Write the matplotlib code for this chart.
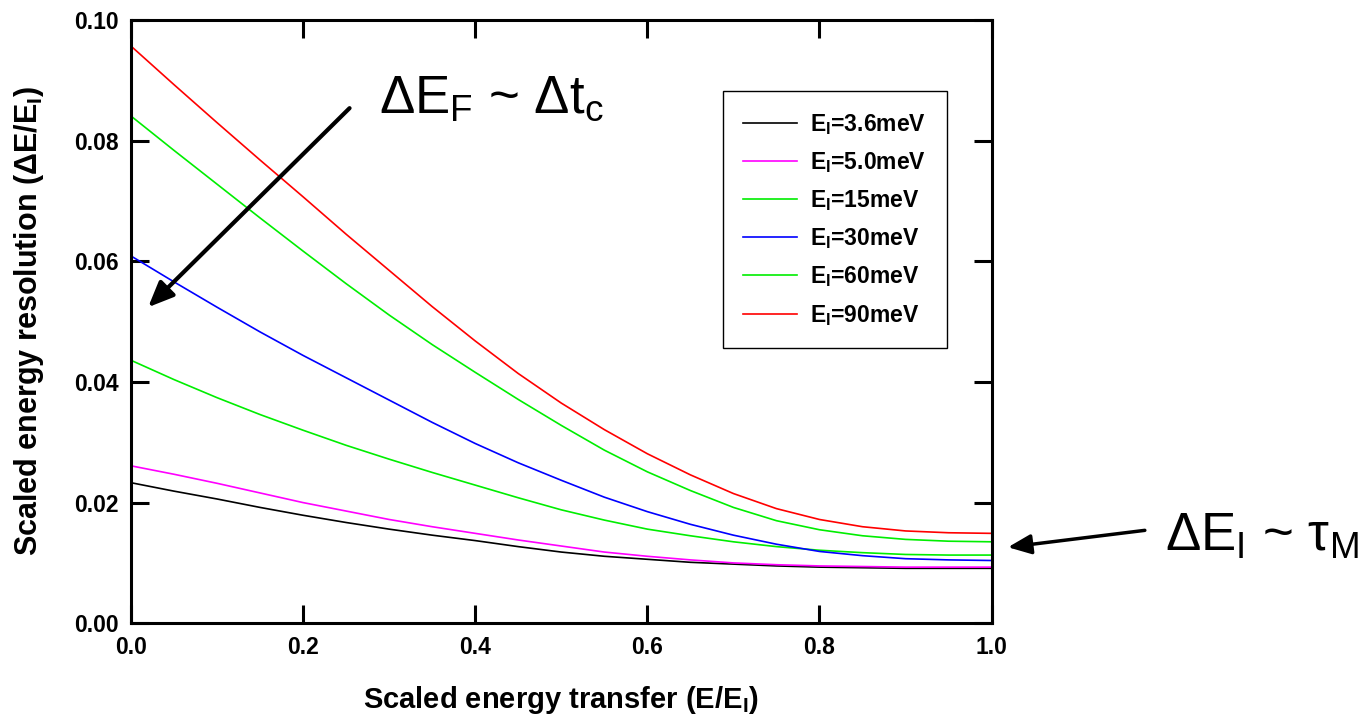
import matplotlib.pyplot as plt
from matplotlib.ticker import FormatStrFormatter

plt.rcParams['font.family'] = ['Liberation Sans', 'DejaVu Sans']
plt.rcParams['mathtext.fontset'] = 'custom'
plt.rcParams['mathtext.rm'] = 'Liberation Sans'
plt.rcParams['mathtext.it'] = 'Liberation Sans:italic'
plt.rcParams['mathtext.bf'] = 'Liberation Sans:bold'

# scaled energy transfer E/Ei
x = [0.0, 0.05, 0.1, 0.15, 0.2, 0.25, 0.3, 0.35, 0.4, 0.45, 0.5,
     0.55, 0.6, 0.65, 0.7, 0.75, 0.8, 0.85, 0.9, 0.95, 1.0]

res_3p6 = [0.0233, 0.0219, 0.0206, 0.0192, 0.0179, 0.0167, 0.0156, 0.0146, 0.0137, 0.0127, 0.0118,
           0.0111, 0.0106, 0.0101, 0.0098, 0.0095, 0.0093, 0.0092, 0.0091, 0.0091, 0.0091]
res_5p0 = [0.0261, 0.0247, 0.0232, 0.0216, 0.0200, 0.0186, 0.0172, 0.0160, 0.0149, 0.0138, 0.0128,
           0.0118, 0.0111, 0.0105, 0.0100, 0.0097, 0.0095, 0.0094, 0.0093, 0.0093, 0.0093]
res_15 = [0.0436, 0.0404, 0.0374, 0.0346, 0.0320, 0.0295, 0.0272, 0.0250, 0.0229, 0.0208, 0.0188,
          0.0171, 0.0156, 0.0145, 0.0135, 0.0127, 0.0121, 0.0117, 0.0114, 0.0113, 0.0113]
res_30 = [0.0609, 0.0566, 0.0524, 0.0483, 0.0444, 0.0407, 0.0370, 0.0333, 0.0298, 0.0266, 0.0237,
          0.0209, 0.0185, 0.0164, 0.0146, 0.0131, 0.0119, 0.0112, 0.0107, 0.0105, 0.0104]
res_60 = [0.0841, 0.0784, 0.0728, 0.0672, 0.0617, 0.0563, 0.0511, 0.0462, 0.0416, 0.0371, 0.0328,
          0.0287, 0.0251, 0.0220, 0.0192, 0.0170, 0.0155, 0.0145, 0.0139, 0.0136, 0.0135]
res_90 = [0.0957, 0.0893, 0.0830, 0.0768, 0.0707, 0.0645, 0.0585, 0.0525, 0.0468, 0.0414, 0.0365,
          0.0321, 0.0281, 0.0246, 0.0215, 0.0190, 0.0172, 0.0160, 0.0153, 0.0150, 0.0149]

labels = ['3.6', '5.0', '15', '30', '60', '90']
series = [res_3p6, res_5p0, res_15, res_30, res_60, res_90]
colors = ['black', '#ff00ff', '#00ee00', '#0000ff', '#00ee00', '#ff0000']

fig = plt.figure(figsize=(13.64, 7.18), dpi=100)
ax = fig.add_axes([0.096, 0.132, 0.631, 0.840])

for lab, y, c in zip(labels, series, colors):
    ax.plot(x, y, color=c, lw=1.2, label=r'E$_\mathbf{I}$=' + lab + 'meV')

ax.set_xlim(0, 1.0)
ax.set_ylim(0, 0.10)
ax.set_xticks([0.0, 0.2, 0.4, 0.6, 0.8, 1.0])
ax.set_yticks([0.0, 0.02, 0.04, 0.06, 0.08, 0.10])
ax.xaxis.set_major_formatter(FormatStrFormatter('%.1f'))
ax.yaxis.set_major_formatter(FormatStrFormatter('%.2f'))
ax.tick_params(direction='in', top=True, right=True, length=13, width=2.2,
               labelsize=16.5, pad=9)
for t in ax.get_xticklabels() + ax.get_yticklabels():
    t.set_fontweight('bold')
for s in ax.spines.values():
    s.set_linewidth(2.2)

fig.text(0.411, 0.025, r'Scaled energy transfer (E/E$_\mathbf{I}$)', ha='center', va='center',
         fontsize=21, fontweight='bold')
fig.text(0.021, 0.553, r'Scaled energy resolution (ΔE/E$_\mathbf{I}$)', ha='center', va='center',
         rotation=90, fontsize=22, fontweight='bold')

leg = ax.legend(loc='upper left', bbox_to_anchor=(0.6876, 0.882),
                prop={'size': 16.5, 'weight': 'bold'},
                handlelength=2.36, handletextpad=0.57, labelspacing=0.58,
                borderpad=0.89, borderaxespad=0, fancybox=False,
                edgecolor='black', framealpha=1)
leg.get_frame().set_linewidth(1.0)

# annotations
ax.annotate('', xy=(0.020, 0.0524), xytext=(0.254, 0.0854),
            arrowprops=dict(arrowstyle='-|>,head_length=0.7,head_width=0.3', lw=3,
                            color='black', mutation_scale=22, shrinkA=0, shrinkB=0),
            annotation_clip=False)
ax.text(0.288, 0.0847, r'ΔE$_\mathrm{F}$ ~ Δt$_\mathrm{c}$', fontsize=38,
        ha='left', va='baseline')

ax.annotate('', xy=(1.019, 0.0126), xytext=(1.178, 0.0154),
            arrowprops=dict(arrowstyle='-|>,head_length=0.7,head_width=0.3', lw=2.5,
                            color='black', mutation_scale=20, shrinkA=0, shrinkB=0),
            annotation_clip=False)
ax.text(1.201, 0.0121, r'ΔE$_\mathrm{I}$ ~ τ$_\mathrm{M}$', fontsize=38,
        ha='left', va='baseline', clip_on=False)

fig.savefig('out.png', dpi=100)
